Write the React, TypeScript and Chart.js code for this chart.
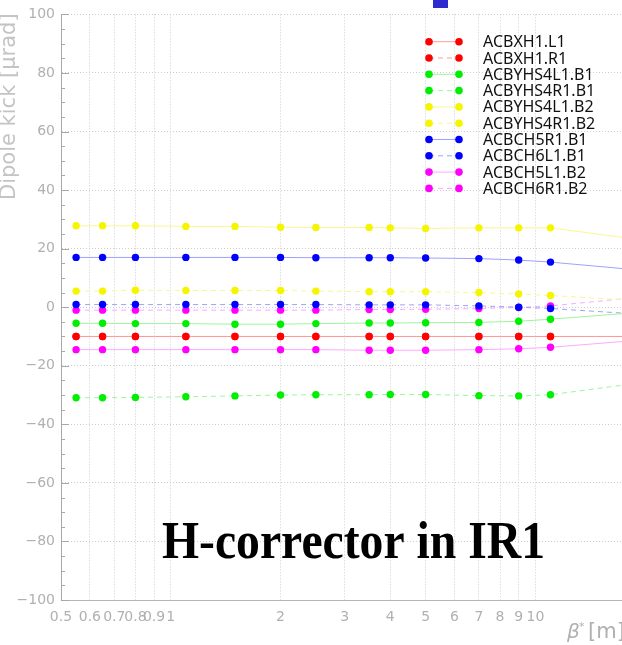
import React, { useEffect, useRef } from 'react';
import { Chart, registerables } from 'chart.js';

Chart.register(...registerables);

// beta* values [m] at which the kicks were computed (last point lies beyond the visible frame)
const BETA_STAR = [0.55, 0.65, 0.8, 1.1, 1.5, 2, 2.5, 3.5, 4, 5, 7, 9, 11, 20];

const SERIES_NAMES = [
  'ACBXH1.L1',
  'ACBXH1.R1',
  'ACBYHS4L1.B1',
  'ACBYHS4R1.B1',
  'ACBYHS4L1.B2',
  'ACBYHS4R1.B2',
  'ACBCH5R1.B1',
  'ACBCH6L1.B1',
  'ACBCH5L1.B2',
  'ACBCH6R1.B2',
];

// dipole kicks [µrad]
const ACBXH1_L1 = [-10, -10, -10, -10, -10, -10, -10, -10, -10, -10, -10, -10, -10, -10];
const ACBXH1_R1 = [-10, -10, -10, -10, -10, -10, -10, -10, -10, -10, -10, -10, -10, -10];
const ACBYHS4L1_B1 = [-5.5, -5.5, -5.6, -5.6, -5.8, -5.8, -5.6, -5.4, -5.4, -5.3, -5.2, -4.8, -4.1, -1.6];
const ACBYHS4R1_B1 = [-30.9, -30.9, -30.8, -30.6, -30.3, -30.0, -29.9, -29.9, -29.8, -29.8, -30.2, -30.3, -29.9, -25.6];
const ACBYHS4L1_B2 = [27.8, 27.8, 27.8, 27.6, 27.6, 27.3, 27.2, 27.2, 27.1, 26.9, 27.1, 27.1, 27.1, 22.8];
const ACBYHS4R1_B2 = [5.5, 5.5, 5.8, 5.7, 5.7, 5.7, 5.5, 5.3, 5.3, 5.3, 5.0, 4.5, 4.0, 2.1];
const ACBCH5R1_B1 = [17, 17, 17, 17, 17, 17, 16.9, 16.9, 16.9, 16.8, 16.6, 16.1, 15.4, 12.5];
const ACBCH6L1_B1 = [0.9, 0.9, 0.9, 0.9, 0.9, 0.9, 0.9, 0.8, 0.8, 0.8, 0.45, 0.0, -0.45, -2.5];
const ACBCH5L1_B2 = [-14.5, -14.5, -14.5, -14.5, -14.5, -14.5, -14.5, -14.7, -14.7, -14.7, -14.5, -14.2, -13.7, -11.1];
const ACBCH6R1_B2 = [-1, -1, -1, -1, -1, -1, -1, -0.8, -0.8, -0.7, -0.45, -0.1, 0.45, 3.6];

const SERIES_VALUES = [
  ACBXH1_L1,
  ACBXH1_R1,
  ACBYHS4L1_B1,
  ACBYHS4R1_B1,
  ACBYHS4L1_B2,
  ACBYHS4R1_B2,
  ACBCH5R1_B1,
  ACBCH6L1_B1,
  ACBCH5L1_B2,
  ACBCH6R1_B2,
];

const MARKER_COLORS = ['#ff0000', '#ff0000', '#00ee00', '#00ee00', '#f5f500', '#f5f500', '#0000ff', '#0000ff', '#ff00ff', '#ff00ff'];
const LINE_COLORS = ['#ff9a9a', '#ff9a9a', '#9cf59c', '#9cf59c', '#f8f890', '#f8f890', '#a0a0ff', '#a0a0ff', '#ffa8ff', '#ffa8ff'];
const DASHED = [false, true, false, true, false, true, false, true, false, true];

const X_TICKS = [0.5, 0.6, 0.7, 0.8, 0.9, 1, 2, 3, 4, 5, 6, 7, 8, 9, 10];
const X_TICK_LABELS = ['0.5', '0.6', '0.7', '0.8', '0.9', '1', '2', '3', '4', '5', '6', '7', '8', '9', '10'];
const Y_TICKS = [-100, -80, -60, -40, -20, 0, 20, 40, 60, 80, 100];
const Y_TICK_LABELS = ['\u2212100', '\u221280', '\u221260', '\u221240', '\u221220', '0', '20', '40', '60', '80', '100'];

const X_TITLE = 'β';
const X_TITLE_SUP = '*';
const X_TITLE_UNIT = '[m]';
const Y_TITLE = 'Dipole kick [μrad]';
const BIG_TITLE = 'H-corrector in IR1';

const AXIS_GREY = '#b0b0b0';
const GRID_GREY = '#cdcdcd';
const DASH = [5, 4];

const decorPlugin = {
  id: 'decor',
  afterDraw(chart: any) {
    const { ctx, chartArea, scales } = chart;
    const y = scales.y;
    ctx.save();
    // inside tick marks on the left axis
    ctx.strokeStyle = '#a8a8a8';
    ctx.lineWidth = 1;
    for (let v = -100; v <= 100; v += 5) {
      const py = Math.round(y.getPixelForValue(v)) + 0.5;
      const len = v % 20 === 0 ? 8 : 4;
      ctx.beginPath();
      ctx.moveTo(chartArea.left, py);
      ctx.lineTo(chartArea.left + len, py);
      ctx.stroke();
    }

    // legend
    const lx1 = 429;
    const lx2 = 459;
    const tx = 483;
    const top = 41.7;
    const step = 16.3;
    ctx.font = '16px "Noto Sans"';
    ctx.textBaseline = 'middle';
    ctx.textAlign = 'left';
    chart.data.datasets.forEach((ds: any, i: number) => {
      const ry = top + i * step;
      ctx.strokeStyle = ds.borderColor;
      ctx.lineWidth = 1;
      ctx.setLineDash(ds.borderDash || []);
      ctx.beginPath();
      ctx.moveTo(lx1, ry);
      ctx.lineTo(lx2, ry);
      ctx.stroke();
      ctx.setLineDash([]);
      ctx.fillStyle = ds.pointBackgroundColor;
      [lx1, lx2].forEach((px) => {
        ctx.beginPath();
        ctx.arc(px, ry, 3.8, 0, Math.PI * 2);
        ctx.fill();
      });
      ctx.fillStyle = '#111';
      ctx.fillText(ds.label, tx, ry + 1);
    });

    // big annotation
    ctx.fillStyle = '#000';
    ctx.textBaseline = 'alphabetic';
    ctx.font = 'bold 52px "Liberation Serif"';
    ctx.fillText(BIG_TITLE, 162, 557.7, 383);

    // x-axis title
    ctx.fillStyle = AXIS_GREY;
    ctx.font = 'italic 20px "DejaVu Sans"';
    ctx.fillText(X_TITLE, 567, 638);
    ctx.font = '11px "DejaVu Sans"';
    ctx.fillText(X_TITLE_SUP, 579, 630);
    ctx.font = '21px "DejaVu Sans"';
    ctx.fillText(X_TITLE_UNIT, 588, 638);

    // y-axis title
    ctx.save();
    ctx.translate(15, 200);
    ctx.rotate(-Math.PI / 2);
    ctx.font = '21px "DejaVu Sans"';
    ctx.fillStyle = '#c4c4c4';
    ctx.fillText(Y_TITLE, 0, 0, 193);
    ctx.restore();

    ctx.restore();
  },
};

export default function App() {
  const canvasRef = useRef<HTMLCanvasElement | null>(null);

  useEffect(() => {
    const canvas = canvasRef.current;
    if (!canvas) return;
    const datasets = SERIES_NAMES.map((name, i) => ({
      label: name,
      data: BETA_STAR.map((x, j) => ({ x, y: SERIES_VALUES[i][j] })),
      borderColor: LINE_COLORS[i],
      backgroundColor: MARKER_COLORS[i],
      pointBackgroundColor: MARKER_COLORS[i],
      pointBorderWidth: 0,
      pointRadius: 3.7,
      borderWidth: 1,
      borderDash: DASHED[i] ? DASH : [],
      tension: 0,
      fill: false,
    }));

    const chart = new Chart(canvas, {
      type: 'line',
      data: { datasets },
      options: {
        responsive: false,
        animation: false,
        devicePixelRatio: 1,
        layout: { padding: { top: 12, left: 0, right: 0, bottom: 0 } },
        plugins: {
          legend: { display: false },
          tooltip: { enabled: false },
        },
        scales: {
          x: {
            type: 'logarithmic',
            min: 0.5,
            max: 17.5,
            afterBuildTicks: (scale: any) => {
              scale.ticks = X_TICKS.map((v) => ({ value: v }));
            },
            afterFit: (scale: any) => {
              scale.height = 45;
            },
            ticks: {
              autoSkip: false,
              maxRotation: 0,
              minRotation: 0,
              padding: 9,
              color: AXIS_GREY,
              font: { family: 'DejaVu Sans', size: 14 },
              callback: (_v: any, i: number) => X_TICK_LABELS[i],
            },
            grid: {
              color: GRID_GREY,
              lineWidth: 1,
              drawTicks: false,
            },
            border: { display: true, color: '#b5b5b5', width: 1, dash: [1, 2] },
          },
          y: {
            type: 'linear',
            min: -100,
            max: 100,
            afterBuildTicks: (scale: any) => {
              scale.ticks = Y_TICKS.map((v) => ({ value: v }));
            },
            afterFit: (scale: any) => {
              scale.width = 61;
            },
            ticks: {
              padding: 6,
              color: AXIS_GREY,
              font: { family: 'DejaVu Sans', size: 14 },
              callback: (_v: any, i: number) => Y_TICK_LABELS[i],
            },
            grid: {
              color: GRID_GREY,
              lineWidth: 1,
              drawTicks: false,
            },
            border: { display: true, color: '#a8a8a8', width: 1, dash: [1, 2] },
          },
        },
      },
      plugins: [decorPlugin],
    });
    return () => chart.destroy();
  }, []);

  return (
    <div
      style={{
        position: 'fixed',
        left: 0,
        top: 0,
        width: 622,
        height: 645,
        overflow: 'hidden',
        background: '#fff',
      }}
    >
      <canvas ref={canvasRef} width={628} height={645} style={{ display: 'block', width: 628, height: 645 }} />
      <div
        style={{
          position: 'absolute',
          left: 433,
          top: 0,
          width: 15,
          height: 8,
          background: '#2b2bd0',
        }}
      />
    </div>
  );
}
